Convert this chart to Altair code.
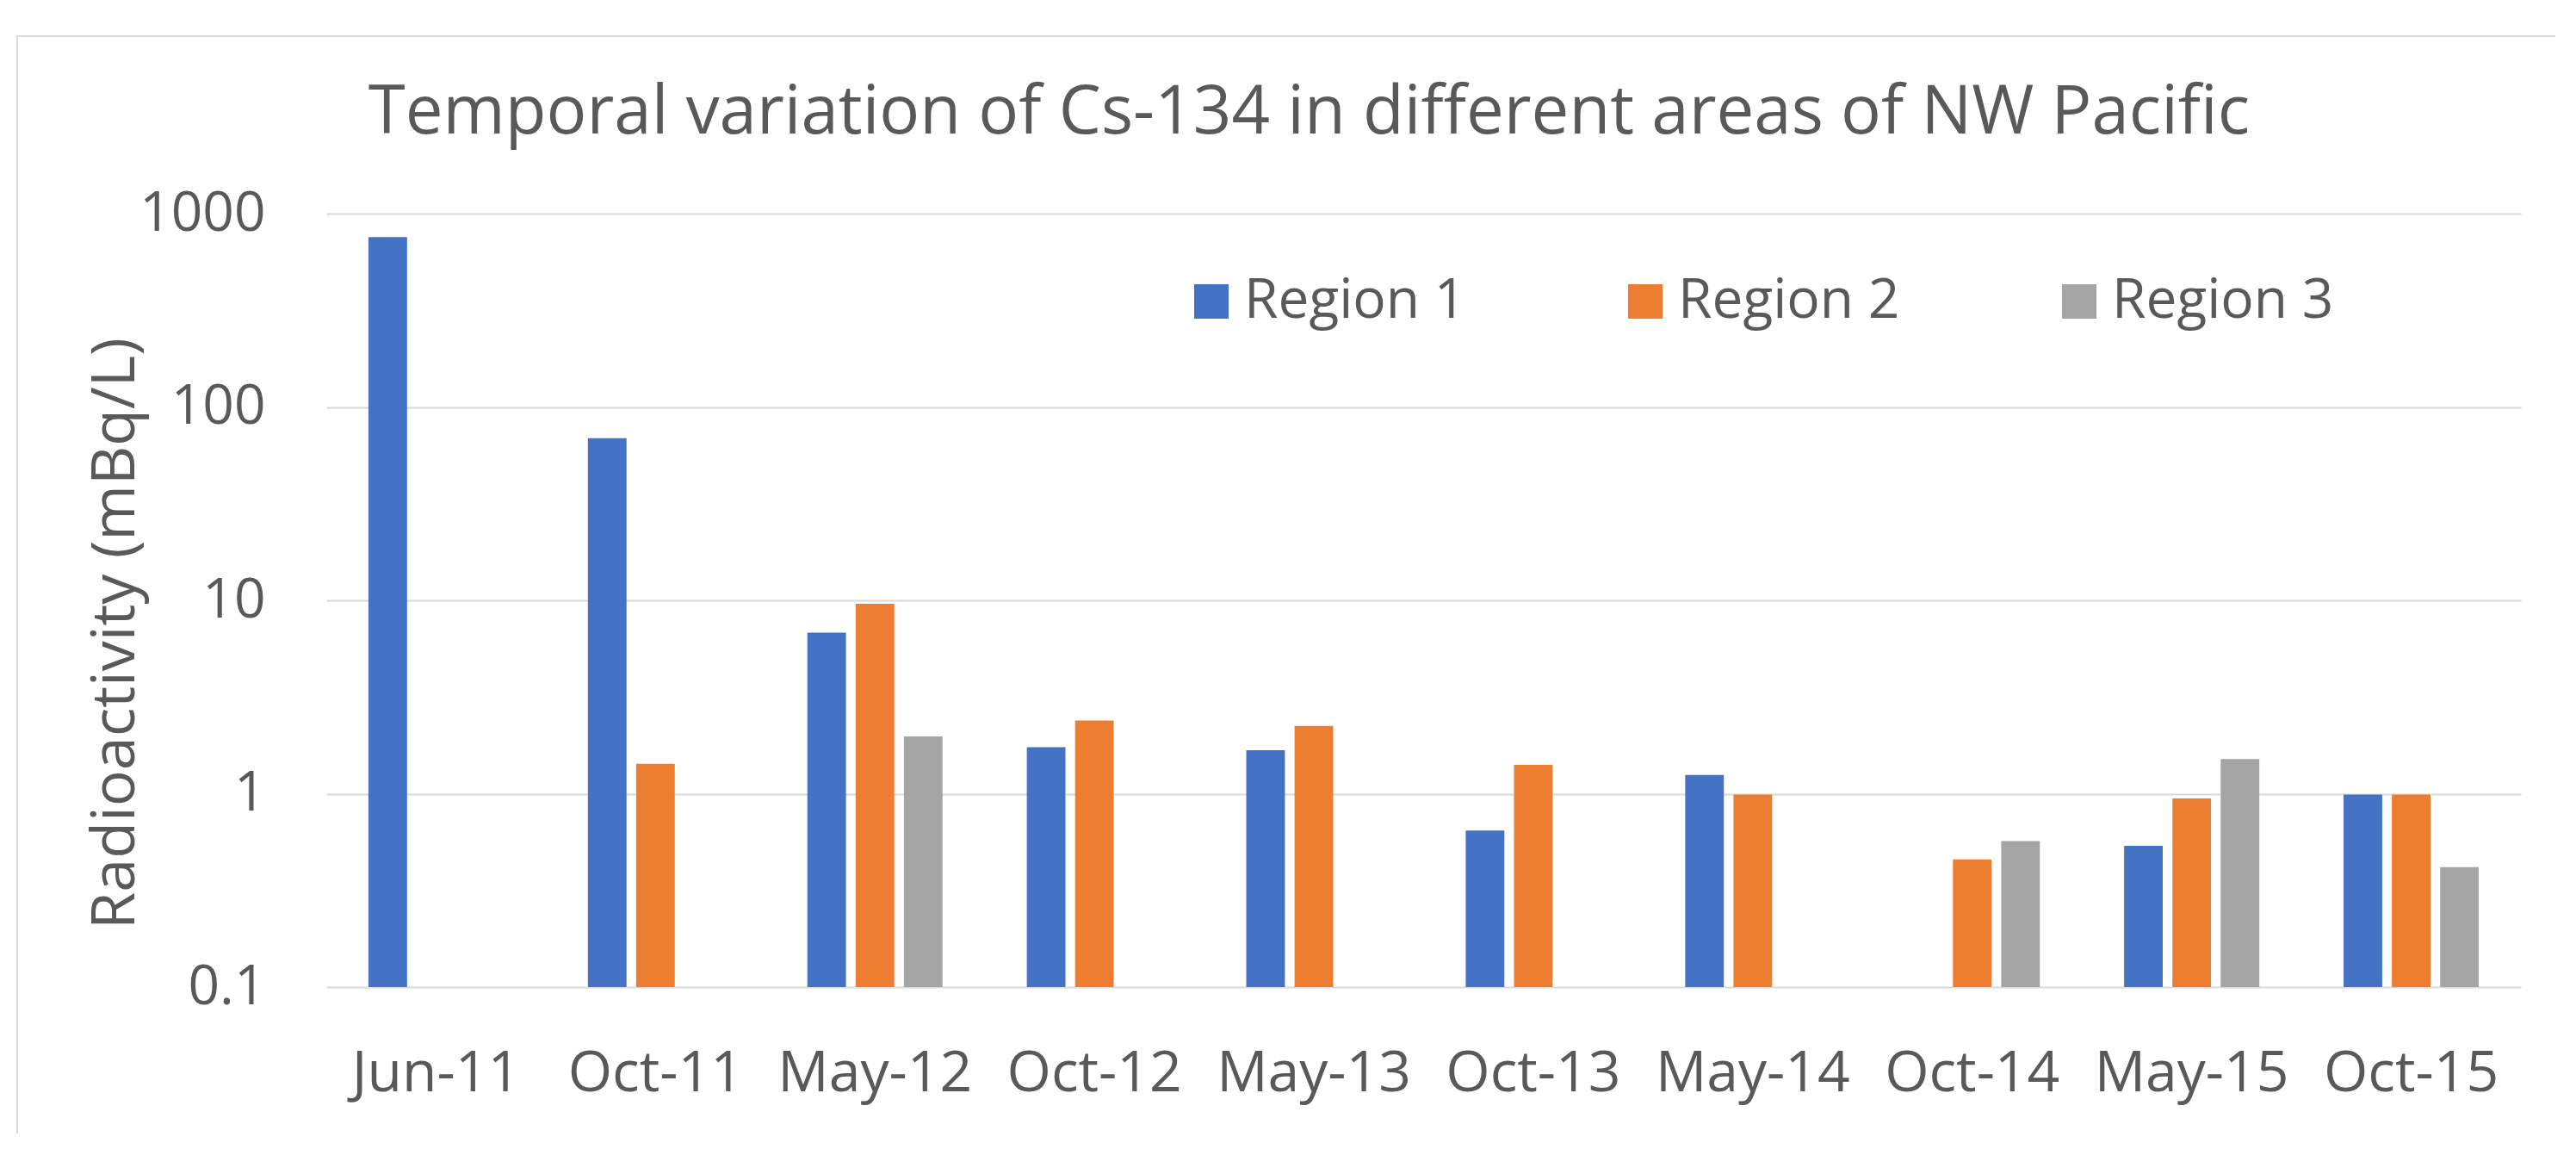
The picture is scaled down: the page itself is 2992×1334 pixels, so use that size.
import altair as alt
import pandas as pd

categories = ["Jun-11", "Oct-11", "May-12", "Oct-12", "May-13",
              "Oct-13", "May-14", "Oct-14", "May-15", "Oct-15"]
regions = ["Region 1", "Region 2", "Region 3"]

# None = no measurement shown
region1 = [756, 69, 6.8, 1.74, 1.68, 0.645, 1.25, None, 0.538, 0.99]
region2 = [None, 1.43, 9.6, 2.39, 2.24, 1.41, 0.99, 0.458, 0.944, 0.99]
region3 = [None, None, 1.98, None, None, None, None, 0.569, 1.51, 0.417]

y_ticks = [0.1, 1, 10, 100, 1000]
colors = ["#4472C4", "#ED7D31", "#A5A5A5"]

rows = []
for reg, vals in zip(regions, [region1, region2, region3]):
    for cat, v in zip(categories, vals):
        if v is not None:
            rows.append({"date": cat, "region": reg, "value": v})
df = pd.DataFrame(rows)

FONT = "Open Sans"
TXT = "#595959"

bars = alt.Chart(df).mark_bar().encode(
    x=alt.X("date:N", sort=categories,
            scale=alt.Scale(domain=categories, paddingInner=0.34, paddingOuter=0.17),
            axis=alt.Axis(title=None, labelAngle=0, domain=False, ticks=False, grid=False,
                          labelFont=FONT, labelFontSize=66, labelColor=TXT, labelLimit=0,
                          labelPadding=120, labelBaseline="alphabetic")),
    xOffset=alt.XOffset("region:N", scale=alt.Scale(domain=regions, paddingInner=0.2, paddingOuter=0.1)),
    y=alt.Y("value:Q", stack=None,
            scale=alt.Scale(type="log", domain=[0.1, 1000], nice=False),
            axis=alt.Axis(values=y_ticks, format="~g", title="Radioactivity (mBq/L)",
                          domain=False, ticks=False, grid=True,
                          gridColor="#D9D9D9", gridWidth=2,
                          labelFont=FONT, labelFontSize=64, labelColor=TXT, labelPadding=71,
                          titleFont=FONT, titleFontSize=70, titleColor=TXT, titleFontWeight="normal",
                          titleAngle=270, titleAlign="center", titleBaseline="alphabetic",
                          titleX=-224, titleY=487)),
    y2=alt.datum(0.1),
    color=alt.Color("region:N", scale=alt.Scale(domain=regions, range=colors),
                    legend=alt.Legend(title=None, orient="none", direction="horizontal",
                                      legendX=996, legendY=70, padding=0,
                                      symbolType="square", symbolSize=1600,
                                      symbolStrokeWidth=0, symbolOpacity=1,
                                      labelFont=FONT, labelFontSize=64, labelColor=TXT,
                                      labelLimit=0, labelOffset=6, columnPadding=176)),
)

border = alt.Chart(pd.DataFrame({"a": [0]})).mark_rect(
    filled=False, stroke="#D9D9D9", strokeWidth=2
).encode(
    x=alt.value(-359), x2=alt.value(2700),
    y=alt.value(-206), y2=alt.value(1200),
)

chart = alt.layer(border, bars).properties(
    width=2549, height=898,
    title=alt.TitleParams(
        "Temporal variation of Cs-134 in different areas of NW Pacific",
        font=FONT, fontSize=78, fontWeight="normal", color=TXT,
        anchor="middle", frame="group", baseline="alphabetic", offset=0, dy=192, dx=-133),
    padding={"left": 371, "top": 240, "right": 40, "bottom": 170},
    autosize=alt.AutoSizeParams(type="none"),
).configure_view(stroke=None)

chart.save("out.html", embed_options={"renderer": "svg", "actions": False})
